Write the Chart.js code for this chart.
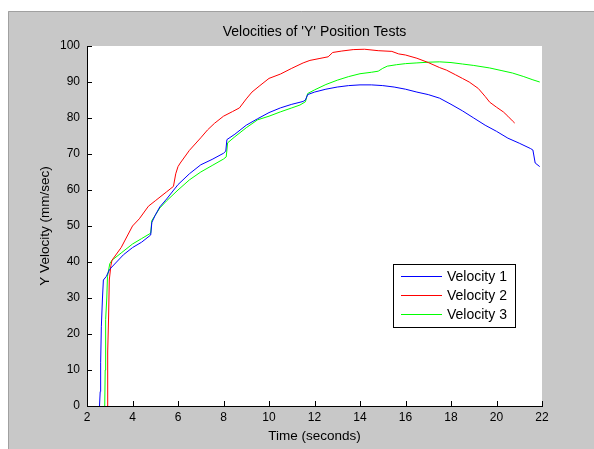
<!DOCTYPE html>
<html>
<head>
<meta charset="utf-8">
<script src="https://cdn.jsdelivr.net/npm/chart.js@4.4.0/dist/chart.umd.min.js"></script>
<style>
html,body{margin:0;padding:0;background:#fff;}
canvas{display:block;}
</style>
</head>
<body>
<canvas id="c" width="594" height="449"></canvas>
<script>
const seriesLabels = ['Velocity 1', 'Velocity 2', 'Velocity 3'];
const seriesColors = ['#0000ff', '#ff0000', '#00ff00'];
const xTicks = [2, 4, 6, 8, 10, 12, 14, 16, 18, 20, 22];
const yTicks = [0, 10, 20, 30, 40, 50, 60, 70, 80, 90, 100];

const time1 = [2.55,2.58,2.6,2.63,2.68,2.72,2.85,3.0,3.3,3.6,4.0,4.4,4.8,4.85,5.0,5.2,5.5,6.0,6.5,7.0,7.5,8.0,8.1,8.15,8.5,9.0,9.5,10.0,10.5,11.0,11.5,11.6,11.7,12.0,12.5,13.0,13.5,14.0,14.5,15.0,15.5,16.0,16.5,17.0,17.5,18.0,18.5,19.0,19.5,20.0,20.5,21.0,21.5,21.6,21.7,21.9];
const vel1 = [0,4,12,22,30,35,36,38,40,42,44,45.5,47.5,51,53,55.3,57.5,61.5,64.5,67,68.5,70.2,70.8,74,75.5,78,79.8,81.5,82.8,83.8,84.6,85,86.5,87.2,88,88.6,89,89.2,89.2,89,88.6,88,87.2,86.5,85.5,83.8,82,80,78,76.3,74.4,73,71.5,71.1,67.5,66.5];

const time2 = [2.88,2.9,2.92,2.95,2.98,3.05,3.1,3.5,4.0,4.3,4.7,5.0,5.5,5.8,5.9,6.0,6.1,6.5,7.0,7.3,7.6,8.0,8.4,8.7,9.0,9.25,9.6,10.0,10.5,11.0,11.5,11.8,12.2,12.6,12.8,13.2,13.7,14.2,14.8,15.4,15.7,16.0,16.5,17.0,17.5,17.8,18.2,18.5,18.8,19.2,19.5,19.7,20.0,20.3,20.5,20.7,20.8];
const vel2 = [0,3,15,25,35,39,40.5,44,50,52,55.5,57,59.5,61,64.5,66.5,67.5,71,74.5,76.7,78.5,80.5,81.8,82.8,85.3,87.2,89,91,92.2,93.8,95.3,96,96.5,97,98.2,98.6,99,99.1,98.7,98.5,97.8,97.5,96.6,95.4,94,93.3,92,91,90,88.2,86,84.4,83,81.7,80.5,79.2,78.6];

const time3 = [2.78,2.8,2.82,2.87,2.9,3.0,3.1,3.5,4.0,4.4,4.8,4.85,5.0,5.2,5.5,6.0,6.5,7.0,7.5,8.0,8.12,8.18,8.5,9.0,9.5,10.0,10.5,11.0,11.36,11.6,11.7,12.0,12.5,13.0,13.5,14.0,14.5,14.8,15.0,15.2,15.6,16.0,16.5,17.0,17.5,18.0,18.5,19.0,19.7,20.2,20.7,21.2,21.6,21.9];
const vel3 = [0,10,24,30,36,39.5,40.5,42.5,45,46.5,48,51.5,53,55,57,60,62.8,65,66.8,68.6,69.2,73.1,74.8,77.3,79.5,80.5,81.7,82.8,83.6,84.5,86.8,87.8,89.3,90.5,91.5,92.3,92.7,93.0,93.8,94.4,94.8,95.1,95.3,95.5,95.6,95.4,95,94.6,93.9,93.2,92.5,91.5,90.6,90];

const FONT = '"Liberation Sans", Arial, sans-serif';
const GRAY = '#c8c8c8';

function pts(t, v) { return t.map((x, i) => ({x: x, y: v[i]})); }
const allTimes = [time1, time2, time3];
const allVels = [vel1, vel2, vel3];

const bgPlugin = {
  id: 'bg',
  beforeDraw(chart) {
    const {ctx, width, height, chartArea} = chart;
    ctx.save();
    ctx.fillStyle = '#fff';
    ctx.fillRect(0, 0, width, height);
    ctx.fillStyle = GRAY;
    ctx.fillRect(8, 11, width - 8, height - 11);
    ctx.strokeStyle = '#a0a0a0';
    ctx.lineWidth = 1;
    ctx.beginPath();
    ctx.moveTo(8.5, height); ctx.lineTo(8.5, 11.5); ctx.lineTo(width, 11.5);
    ctx.stroke();
    ctx.fillStyle = '#fff';
    ctx.fillRect(chartArea.left, chartArea.top, chartArea.right - chartArea.left, chartArea.bottom - chartArea.top);
    ctx.restore();
  },
  afterDraw(chart) {
    const {ctx, chartArea} = chart;
    const xs = chart.scales.x, ys = chart.scales.y;
    ctx.save();
    ctx.strokeStyle = '#000';
    ctx.lineWidth = 1;
    ctx.beginPath();
    xs.ticks.forEach(t => {
      const px = Math.round(xs.getPixelForValue(t.value)) + 0.5;
      ctx.moveTo(px, chartArea.bottom); ctx.lineTo(px, chartArea.bottom - 5);
    });
    ys.ticks.forEach(t => {
      const py = Math.round(ys.getPixelForValue(t.value)) + 0.5;
      ctx.moveTo(chartArea.left, py); ctx.lineTo(chartArea.left + 5, py);
    });
    ctx.stroke();

    // legend
    const bx = 393.5, by = 264.5, bw = 122, bh = 63;
    ctx.fillStyle = '#fff';
    ctx.fillRect(bx, by, bw, bh);
    ctx.strokeStyle = '#000';
    ctx.strokeRect(bx, by, bw, bh);
    ctx.font = '14px ' + FONT;
    ctx.textBaseline = 'middle';
    ctx.textAlign = 'left';
    chart.data.datasets.forEach((ds, i) => {
      const y = 276 + i * 19;
      ctx.strokeStyle = ds.borderColor;
      ctx.beginPath();
      ctx.moveTo(401, y + 0.5); ctx.lineTo(442, y + 0.5);
      ctx.stroke();
      ctx.fillStyle = '#000';
      ctx.fillText(ds.label, 447, y + 1);
    });
    ctx.restore();
  }
};

new Chart(document.getElementById('c'), {
  type: 'line',
  data: {
    datasets: seriesLabels.map((lab, i) => ({
      label: lab,
      data: pts(allTimes[i], allVels[i]),
      borderColor: seriesColors[i],
      backgroundColor: seriesColors[i],
      borderWidth: 1,
      pointRadius: 0,
      tension: 0,
      fill: false
    }))
  },
  options: {
    responsive: false,
    animation: false,
    devicePixelRatio: 1,
    layout: {padding: {top: 11, right: 52, bottom: 0, left: 0}},
    plugins: {
      legend: {display: false},
      tooltip: {enabled: false},
      title: {
        display: true,
        fullSize: false,
        text: "Velocities of 'Y' Position Tests",
        color: '#000',
        font: {family: FONT, size: 14, weight: 'normal'},
        padding: {top: 12.6, bottom: 5.6}
      }
    },
    scales: {
      x: {
        type: 'linear',
        min: 2, max: 22,
        afterBuildTicks(scale) { scale.ticks = xTicks.map(v => ({value: v})); },
        afterFit(scale) { scale.height = 43; },
        grid: {display: true, drawOnChartArea: false, drawTicks: false},
        border: {display: true, color: '#000', width: 1},
        ticks: {color: '#000', font: {family: FONT, size: 12}, padding: 4, maxRotation: 0, autoSkip: false},
        title: {display: true, text: 'Time (seconds)', color: '#000', font: {family: FONT, size: 13.5}, padding: {top: 0, bottom: 4.9}}
      },
      y: {
        type: 'linear',
        min: 0, max: 100,
        afterBuildTicks(scale) { scale.ticks = yTicks.map(v => ({value: v})); },
        afterFit(scale) { scale.width = 87; },
        grid: {display: true, drawOnChartArea: false, drawTicks: false},
        border: {display: true, color: '#000', width: 1},
        ticks: {color: '#000', font: {family: FONT, size: 12}, padding: 7, autoSkip: false},
        title: {display: true, text: 'Y Velocity (mm/sec)', color: '#000', font: {family: FONT, size: 13.5}, padding: {top: 36.9, bottom: 0}}
      }
    }
  },
  plugins: [bgPlugin]
});
</script>
</body>
</html>
